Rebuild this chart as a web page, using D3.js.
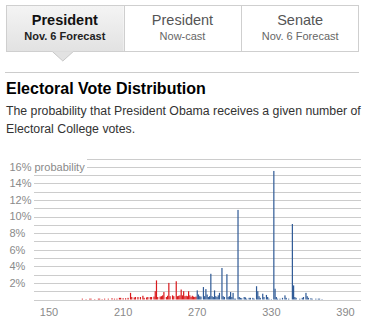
<!DOCTYPE html>
<html>
<head>
<meta charset="utf-8">
<script src="https://cdn.jsdelivr.net/npm/d3@7"></script>
<style>
  html, body { margin: 0; padding: 0; background: #fff; }
  svg { display: block; font-family: "Liberation Sans", Arial, Helvetica, sans-serif; }
</style>
</head>
<body>
<div id="chart"></div>
<script>
// ---- data ----
const tabTitles = ["President", "President", "Senate"];
const tabSubtitles = ["Nov. 6 Forecast", "Now-cast", "Nov. 6 Forecast"];
const chartTitle = "Electoral Vote Distribution";
const subtitleLines = ["The probability that President Obama receives a given number of", "Electoral College votes."];
const yTicks = [2, 4, 6, 8, 10, 12, 14, 16];
const gridValues = [1, 2, 3, 4, 5, 6, 7, 8, 9, 10, 11, 12, 13, 14, 15, 16, 17];
const xTicks = [150, 210, 270, 330, 390];
const electoralVotes = [
  177,180,183,184,187,190,191,193,195,198,201,203,205,207,208,210,212,214,216,217,
  219,220,222,224,226,227,229,230,232,233,235,236,237,238,240,241,242,243,245,246,
  247,248,250,251,253,254,255,256,257,258,259,260,261,262,263,264,265,266,267,268,269,
  270,271,272,273,275,276,277,278,279,280,281,282,283,284,285,286,287,288,290,291,
  292,294,295,296,297,298,299,300,301,303,304,305,306,308,309,310,312,313,315,316,
  318,319,320,321,323,324,326,327,328,330,332,333,334,335,337,339,341,342,344,347,
  348,349,350,353,355,356,358,359,360,362,363,366,368,369,371
];
const probabilities = [
  0.1,0.05,0.1,0.1,0.05,0.1,0.1,0.05,0.1,0.1,0.15,0.1,0.1,0.2,0.2,0.15,0.15,0.2,0.8,0.3,
  0.25,0.3,0.3,0.3,0.45,0.2,0.25,0.3,0.3,0.3,0.35,1.0,2.3,0.3,0.35,0.4,0.5,0.9,0.3,0.45,
  2.0,0.4,0.5,0.4,2.2,0.4,0.45,0.5,1.2,0.5,1.0,0.4,0.45,0.4,1.0,0.5,0.3,0.45,0.35,0.3,0.35,
  1.1,0.6,0.4,0.35,1.5,0.4,1.25,0.6,0.3,0.4,3.1,0.4,0.3,1.1,0.4,0.3,0.5,0.8,3.8,0.4,
  0.3,3.05,0.3,0.4,0.9,0.3,0.8,0.1,0.1,10.8,0.3,0.2,0.15,0.3,0.25,0.1,0.2,0.2,0.2,0.1,
  1.6,1.0,0.4,0.2,0.7,0.3,0.55,0.3,0.1,0.05,15.5,1.3,0.3,0.1,0.1,0.2,0.5,0.2,0.1,9.1,
  1.7,0.3,0.2,0.1,0.2,0.3,0.8,0.4,0.2,0.15,0.1,0.1,0.1,0.1,0.05
];
const winThreshold = 270;

// ---- drawing ----
const W = 370, H = 335;
const svg = d3.select("#chart").append("svg").attr("width", W).attr("height", H);

const defs = svg.append("defs");
const grad = defs.append("linearGradient").attr("id", "tabGrad").attr("x1", 0).attr("y1", 0).attr("x2", 0).attr("y2", 1);
grad.append("stop").attr("offset", "0%").attr("stop-color", "#f4f4f4");
grad.append("stop").attr("offset", "100%").attr("stop-color", "#e2e2e2");

// tabs
const tabLeft = 6, tabRight = 359, tabTop = 5.5, tabBottom = 51.5;
const tabX = d3.scaleBand().domain(d3.range(tabTitles.length)).range([tabLeft, tabRight]);
const tabs = svg.append("g");
tabs.append("rect")
  .attr("x", tabX(0)).attr("y", tabTop).attr("width", tabX.bandwidth()).attr("height", tabBottom - tabTop)
  .attr("fill", "url(#tabGrad)");
const ac = tabX(0) + tabX.bandwidth() / 2 - 2;
tabs.append("path")
  .attr("d", `M${ac - 10.5},${tabBottom} L${ac},${tabBottom + 9.5} L${ac + 10.5},${tabBottom}`)
  .attr("fill", "#e2e2e2").attr("stroke", "#c8c8c8").attr("stroke-width", 1);
tabs.append("rect")
  .attr("x", tabLeft + 0.5).attr("y", tabTop).attr("width", tabRight - tabLeft - 1).attr("height", tabBottom - tabTop)
  .attr("fill", "none").attr("stroke", "#cfcfcf");
tabs.append("rect")
  .attr("x", ac - 10).attr("y", tabBottom - 1).attr("width", 20).attr("height", 1.2)
  .attr("fill", "#e2e2e2");
tabs.selectAll("line.div").data([1, 2]).join("line")
  .attr("x1", d => Math.round(tabX(d)) + 0.5).attr("x2", d => Math.round(tabX(d)) + 0.5)
  .attr("y1", tabTop).attr("y2", tabBottom).attr("stroke", "#cfcfcf");
tabs.selectAll("text.t").data(tabTitles).join("text")
  .attr("x", (d, i) => tabX(i) + tabX.bandwidth() / 2).attr("y", 25)
  .attr("text-anchor", "middle").attr("font-size", 14.5)
  .attr("font-weight", (d, i) => i === 0 ? "bold" : "normal")
  .attr("fill", (d, i) => i === 0 ? "#111" : "#555")
  .text(d => d);
tabs.selectAll("text.s").data(tabSubtitles).join("text")
  .attr("x", (d, i) => tabX(i) + tabX.bandwidth() / 2).attr("y", 39.5)
  .attr("text-anchor", "middle").attr("font-size", 11)
  .attr("font-weight", (d, i) => i === 0 ? "bold" : "normal")
  .attr("fill", (d, i) => i === 0 ? "#222" : "#666")
  .text(d => d);

// divider rule
svg.append("line").attr("x1", 5).attr("x2", 359).attr("y1", 72.5).attr("y2", 72.5).attr("stroke", "#cccccc");

// title & subtitle
svg.append("text").attr("x", 6).attr("y", 93.5).attr("font-size", 16).attr("font-weight", "bold")
  .attr("fill", "#000").text(chartTitle);
svg.selectAll("text.sub").data(subtitleLines).join("text")
  .attr("x", 6).attr("y", (d, i) => 115 + i * 18.3).attr("font-size", 12.3).attr("fill", "#333")
  .text(d => d);

// scales
const x = d3.scaleLinear().domain([150, 390]).range([49, 345.5]);
const y = d3.scaleLinear().domain([0, 17]).range([299.5, 158.5]);
const gridLeft = 34, gridRight = 361, gridLeftTop = 87;

// gridlines
const g = svg.append("g");
g.selectAll("line.grid").data([0].concat(gridValues)).join("line")
  .attr("x1", d => d >= 16 ? gridLeftTop : gridLeft).attr("x2", gridRight)
  .attr("y1", d => Math.round(y(d)) + 0.5).attr("y2", d => Math.round(y(d)) + 0.5)
  .attr("stroke", "#cccccc").attr("stroke-width", 1);

// y labels
g.selectAll("text.yl").data(yTicks).join("text")
  .attr("x", 9.5).attr("y", d => y(d)).attr("dy", "0.35em")
  .attr("font-size", 11).attr("fill", "#8a8a8a")
  .text(d => d + "%");
g.append("text").attr("x", 34.5).attr("y", y(16)).attr("dy", "0.35em")
  .attr("font-size", 11).attr("fill", "#8a8a8a").text("probability");

// x labels
g.selectAll("text.xl").data(xTicks).join("text")
  .attr("x", d => x(d)).attr("y", 316).attr("text-anchor", "middle")
  .attr("font-size", 11).attr("fill", "#8a8a8a").text(d => d);

// bars
const bars = electoralVotes.map((ev, i) => ({ ev, p: probabilities[i] }));
g.selectAll("rect.bar").data(bars).join("rect")
  .attr("x", d => x(d.ev) - 0.6).attr("width", 1.2)
  .attr("y", d => y(d.p)).attr("height", d => y(0) - y(d.p))
  .attr("fill", d => d.ev >= winThreshold ? "#2f5a96" : "#d9191c");
</script>
</body>
</html>
